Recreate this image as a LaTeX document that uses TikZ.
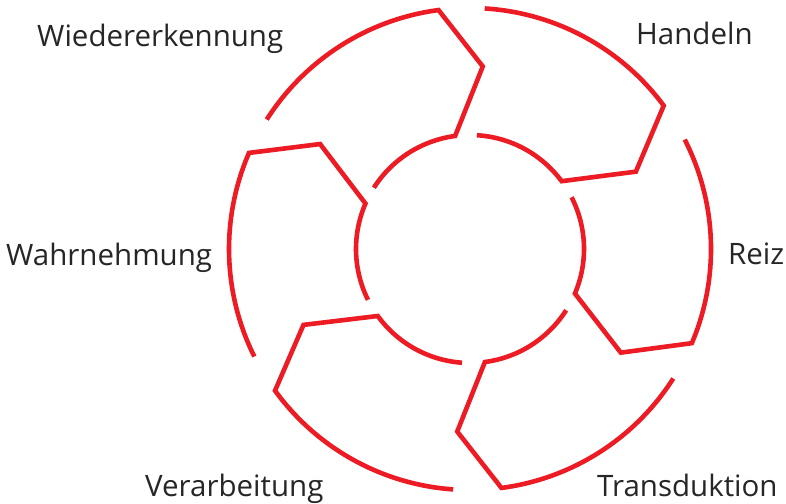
\documentclass[tikz,border=0pt]{standalone}
\usepackage{fontspec}
\setmainfont{Open Sans}
\definecolor{cyclered}{HTML}{ED1C24}
\definecolor{labelgray}{HTML}{262626}
\begin{document}
\begin{tikzpicture}[x=1pt,y=1pt,
  seg/.style={draw=cyclered,line width=4.6pt,line join=miter,line cap=butt},
  lbl/.style={inner sep=0pt,anchor=base west,text=labelgray,font=\fontsize{29.5}{34}\selectfont}]
\useasboundingbox (0,0) rectangle (786,503);
\begin{scope}[shift={(470,254)}]
\foreach \b in {156.5,97.5,36.5,-23,-82.5,-144}{
  \pgfmathsetmacro{\t}{\b+50}
  \pgfmathsetmacro{\p}{\b-11.5}
  \draw[seg] (\t:241) arc[start angle=\t, end angle=\b, radius=241]
    -- (\p:183) -- (\b:114) arc[start angle=\b, end angle=\t, radius=114];
}
\end{scope}
\node[lbl] (wiedererkennung) at (37,456) {Wiedererkennung};
\node[lbl] (handeln) at (636,458) {Handeln};
\node[lbl] (wahrnehmung) at (6,237) {Wahrnehmung};
\node[lbl] (reiz) at (728,238) {Reiz};
\node[lbl] (verarbeitung) at (145,7) {Verarbeitung};
\node[lbl] (transduktion) at (597,7) {Transduktion};
\end{tikzpicture}
\end{document}
